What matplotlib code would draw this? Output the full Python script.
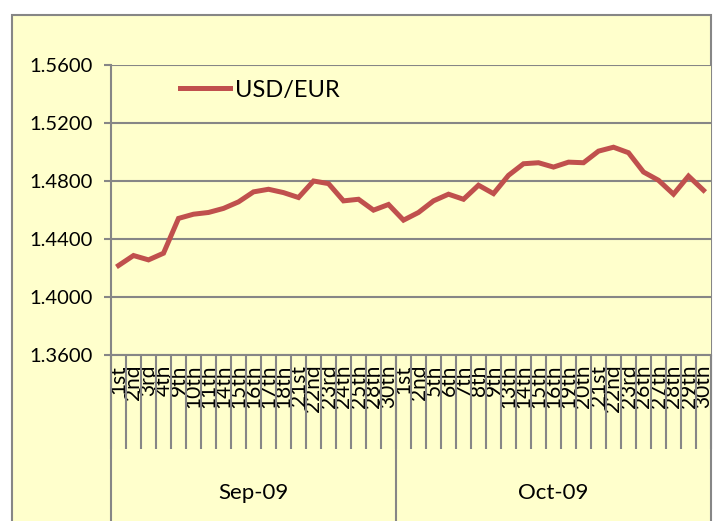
import matplotlib.pyplot as plt
from matplotlib.patches import Rectangle

sep_days = ['1st', '2nd', '3rd', '4th', '9th', '10th', '11th', '14th', '15th',
            '16th', '17th', '18th', '21st', '22nd', '23rd', '24th', '25th',
            '28th', '30th']
oct_days = ['1st', '2nd', '5th', '6th', '7th', '8th', '9th', '13th', '14th',
            '15th', '16th', '19th', '20th', '21st', '22nd', '23rd', '26th',
            '27th', '28th', '29th', '30th']
months = ['Sep-09', 'Oct-09']

usd_eur = [1.4217, 1.4286, 1.4256, 1.4302, 1.4542, 1.4571, 1.4583, 1.4611,
           1.4656, 1.4725, 1.4743, 1.4720, 1.4686, 1.4800, 1.4782, 1.4663,
           1.4674, 1.4599, 1.4638,
           1.4530, 1.4583, 1.4663, 1.4709, 1.4674, 1.4771, 1.4713, 1.4839,
           1.4919, 1.4926, 1.4896, 1.4930, 1.4926, 1.5006, 1.5033, 1.4995,
           1.4862, 1.4805, 1.4709, 1.4834, 1.4736]

y_ticks = [1.36, 1.40, 1.44, 1.48, 1.52, 1.56]

plt.rcParams['font.family'] = ['Lato', 'DejaVu Sans']

bg = '#FFFFCC'
grey = '#868686'
red = '#C0504D'

W, H = 717, 521
fig = plt.figure(figsize=(W / 100, H / 100), dpi=100, facecolor='white')
fig.patches.append(Rectangle((12 / W, -0.05), (711 - 12) / W, 1.05 - 15 / H,
                             transform=fig.transFigure, facecolor=bg,
                             edgecolor=grey, linewidth=1.5, zorder=-10))

ax = fig.add_axes([111 / W, (H - 355) / H, 600 / W, 290 / H])
ax.set_facecolor(bg)

labels = sep_days + oct_days
x = list(range(len(labels)))
ax.plot(x, usd_eur, color=red, linewidth=3.6, solid_joinstyle='miter',
        label='USD/EUR', zorder=3)

ax.set_xlim(-0.5, len(labels) - 0.5)
ax.set_ylim(1.36, 1.56)
ax.set_yticks(y_ticks)
ax.set_yticklabels(['%.4f' % v for v in y_ticks])
ax.yaxis.grid(True, color=grey, linewidth=1.5)
ax.set_axisbelow(True)

for side in ['top', 'right']:
    ax.spines[side].set_visible(False)
for side in ['left', 'bottom']:
    ax.spines[side].set_color(grey)
    ax.spines[side].set_linewidth(1.5)

ax.tick_params(axis='y', direction='out', length=5, width=1.5, color=grey,
               pad=8, labelsize=14.5)

# day labels at category centers, boundaries as long minor ticks
ax.set_xticks(x)
ax.set_xticklabels(labels, rotation=90, fontsize=15)
ax.tick_params(axis='x', which='major', length=0, pad=7)
ax.set_xticks([i - 0.5 for i in range(len(labels) + 1)], minor=True)
ax.tick_params(axis='x', which='minor', direction='out', length=68,
               width=1.5, color=grey)

# month dividers and labels
bounds = [-0.5, len(sep_days) - 0.5, len(labels) - 0.5]
tr = ax.get_xaxis_transform()
for b in bounds[:2]:
    ax.plot([b, b], [0, -0.6], color=grey, linewidth=1.5, transform=tr,
            clip_on=False)
for i, m in enumerate(months):
    ax.text((bounds[i] + bounds[i + 1]) / 2, -0.476, m, transform=tr,
            ha='center', va='center', fontsize=16)

ax.legend(loc='center left', bbox_to_anchor=(180 / W, 1 - 90 / H),
          bbox_transform=fig.transFigure, frameon=False, fontsize=17,
          handlelength=2.1, handletextpad=0.25, borderpad=0, borderaxespad=0)

fig.savefig('out.png', dpi=100, facecolor='white')
